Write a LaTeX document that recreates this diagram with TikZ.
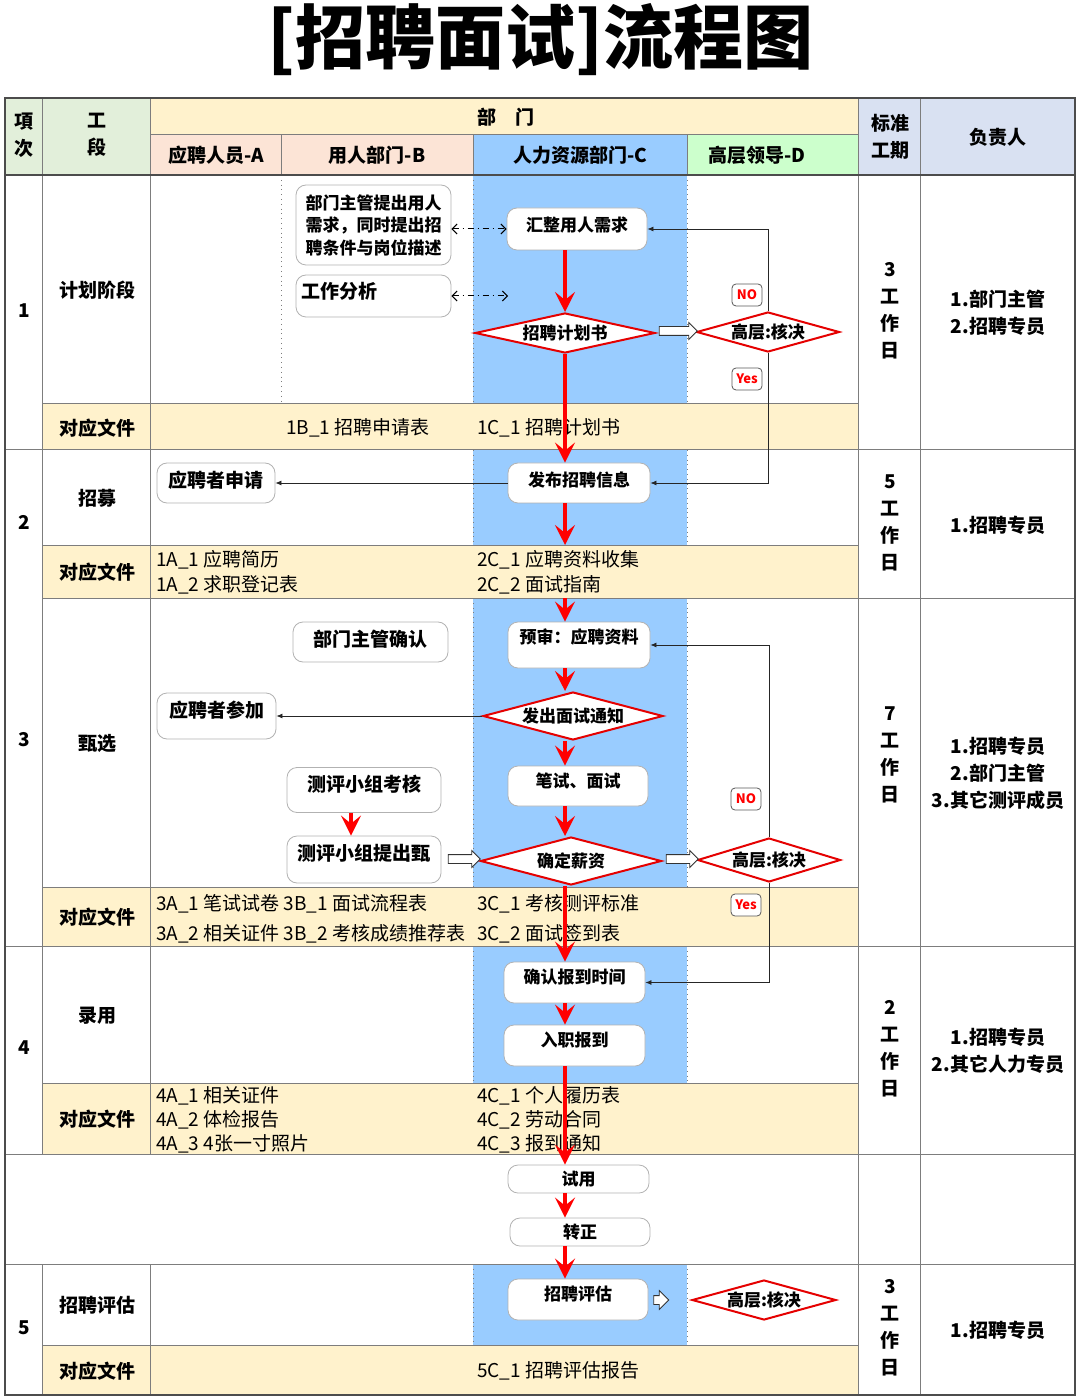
\documentclass[tikz,border=0pt]{standalone}
\usepackage{fontspec}
\setmainfont{Noto Sans CJK SC}
\usepackage{tikz}
\usetikzlibrary{arrows.meta,shapes.geometric,shapes.arrows,calc}
\definecolor{hdrgreen}{RGB}{226,239,218}
\definecolor{hdryellow}{RGB}{255,242,204}
\definecolor{hdrpeach}{RGB}{252,228,214}
\definecolor{laneblue}{RGB}{153,204,255}
\definecolor{lanegreen}{RGB}{204,255,204}
\definecolor{hdrgray}{RGB}{217,225,242}
\definecolor{fileyellow}{RGB}{255,242,204}
\definecolor{gridline}{RGB}{125,125,125}

\begin{document}
\begin{tikzpicture}[x=0.5pt,y=-0.5pt,
  box/.style={draw=gray!60, rounded corners=5pt, fill=white, inner sep=2pt,
    font=\fontsize{8.5}{11.25}\selectfont\bfseries},
  boxab/.style={box, font=\fontsize{9.5}{12}\selectfont\bfseries},
  decide/.style={diamond, draw=red!90!black, line width=1pt, fill=white, inner sep=0pt,
    font=\fontsize{8.5}{10}\selectfont\bfseries},
  tag/.style={draw=gray!70!black, rounded corners=2pt, fill=white, text=red, inner sep=0pt,
    minimum width=15pt, minimum height=11pt, font=\fontsize{6.5}{8}\selectfont\bfseries},
  hollow/.style={single arrow, draw=black!80, line width=0.4pt, fill=white, inner sep=0pt,
    text height=2pt, text depth=2pt, single arrow head extend=2pt},
  redarr/.style={draw=red, line width=1.7pt, -{Stealth[length=10pt, width=10pt, inset=4pt]}},
  thinarr/.style={draw=black!85, line width=0.4pt, -{Latex[length=3pt, width=2.5pt]}},
  dasharr/.style={draw=black, line width=0.5pt, dash dot,
    {Straight Barb[length=2.5pt]}-{Straight Barb[length=2.5pt]}},
  cell/.style={font=\fontsize{9.5}{13.5}\selectfont\bfseries, align=center},
  filetxt/.style={anchor=west, align=left, font=\fontsize{9.5}{12.5}\selectfont},
  grid/.style={draw=gridline, line width=0.5pt}]
  \useasboundingbox (0,0) rectangle (1080,1400);
  % title
  \node[font=\fontsize{35}{40}\selectfont\bfseries] (title) at (540,40) {[招聘面试]流程图};
  % header fills
  \fill[hdrgreen] (5,98) rectangle (150,175);
  \fill[hdryellow] (150,98) rectangle (858,135);
  \fill[hdrpeach] (150,135) rectangle (473,175);
  \fill[laneblue] (473,135) rectangle (687,175);
  \fill[lanegreen] (687,135) rectangle (858,175);
  \fill[hdrgray] (858,98) rectangle (1075,175);
  % lane C and file rows
  \foreach \ya/\yb in {175/404,450/545,598/887,946/1083,1264/1345}{
    \fill[laneblue] (473,\ya) rectangle (687,\yb);
    \draw[gridline, dotted] (473,\ya) -- (473,\yb) (687,\ya) -- (687,\yb);
  }
  \foreach \ya/\yb in {404/450,545/598,887/946,1083/1154,1345/1395}
    \fill[fileyellow] (42,\ya) rectangle (858,\yb);
  % grid
  \draw[grid] (150,135) -- (858,135);
  \foreach \yy in {404,545,887,1083,1345}
    \draw[grid] (42,\yy) -- (858,\yy);
  \foreach \yy in {450,946,1154,1264}
    \draw[grid] (5,\yy) -- (1075,\yy);
  \draw[grid] (42,598) -- (1075,598);
  \foreach \xx in {42,150}
    \draw[grid] (\xx,98) -- (\xx,1154) (\xx,1264) -- (\xx,1395);
  \foreach \xx in {281,473,687}
    \draw[grid] (\xx,135) -- (\xx,175);
  \draw[gridline, dotted] (281,175) -- (281,404);
  \draw[grid] (858,98) -- (858,1395) (920,98) -- (920,1395);
  \draw[draw=black!70, line width=1pt] (5,175) -- (1075,175);
  \draw[draw=black!70, line width=0.8pt] (5,98) rectangle (1075,1395);
  % header texts
  \node[cell] (hitem) at (24,135) {項\\次};
  \node[cell] (hstage) at (97,135) {工\\段};
  \node[cell] (hdept) at (506,117) {部\hspace{1em}门};
  \node[cell] (hlaneA) at (216,155) {应聘人员-A};
  \node[cell] (hlaneB) at (377,155) {用人部门-B};
  \node[cell] (hlaneC) at (580,155) {人力资源部门-C};
  \node[cell] (hlaneD) at (757,155) {高层领导-D};
  \node[cell] (hdays) at (890,137) {标准\\工期};
  \node[cell] (howner) at (998,137) {负责人};
  % item numbers and stage names
  \node[cell] (n1) at (24,311) {1};
  \node[cell] (n2) at (24,522) {2};
  \node[cell] (n3) at (24,740) {3};
  \node[cell] (n4) at (24,1048) {4};
  \node[cell] (n5) at (24,1328) {5};
  \node[cell] (s1) at (97,290) {计划阶段};
  \node[cell] (s2) at (97,498) {招募};
  \node[cell] (s3) at (97,743) {甄选};
  \node[cell] (s4) at (97,1016) {录用};
  \node[cell] (s5) at (97,1305) {招聘评估};
  \foreach \yy/\nm in {428/f1,572/f2,917/f3,1119/f4,1371/f5}
    \node[cell] (\nm) at (97,\yy) {对应文件};
  % days and owners
  \node[cell] (t1) at (890,311) {3\\工\\作\\日};
  \node[cell] (t2) at (890,523) {5\\工\\作\\日};
  \node[cell] (t3) at (890,755) {7\\工\\作\\日};
  \node[cell] (t4) at (890,1049) {2\\工\\作\\日};
  \node[cell] (t5) at (890,1328) {3\\工\\作\\日};
  \node[cell] (o1) at (998,313) {1.部门主管\\2.招聘专员};
  \node[cell] (o2) at (998,525) {1.招聘专员};
  \node[cell] (o3) at (998,773) {1.招聘专员\\2.部门主管\\3.其它测评成员};
  \node[cell] (o4) at (998,1051) {1.招聘专员\\2.其它人力专员};
  \node[cell] (o5) at (998,1330) {1.招聘专员};
  % documents
  \node[filetxt] (d1B) at (279,428) {1B\_1 招聘申请表};
  \node[filetxt] (d1C) at (470,428) {1C\_1 招聘计划书};
  \node[filetxt] (d2A) at (149,572) {1A\_1 应聘简历\\1A\_2 求职登记表};
  \node[filetxt] (d2C) at (470,572) {2C\_1 应聘资料收集\\2C\_2 面试指南};
  \node[filetxt, font=\fontsize{9.5}{15}\selectfont] (d3A) at (149,919) {3A\_1 笔试试卷 3B\_1 面试流程表\\3A\_2 相关证件 3B\_2 考核成绩推荐表};
  \node[filetxt, font=\fontsize{9.5}{15}\selectfont] (d3C) at (470,919) {3C\_1 考核测评标准\\3C\_2 面试签到表};
  \node[filetxt, font=\fontsize{9.5}{12}\selectfont] (d4A) at (149,1120) {4A\_1 相关证件\\4A\_2 体检报告\\4A\_3 4张一寸照片};
  \node[filetxt, font=\fontsize{9.5}{12}\selectfont] (d4C) at (470,1120) {4C\_1 个人履历表\\4C\_2 劳动合同\\4C\_3 报到通知};
  \node[filetxt] (d5C) at (470,1371) {5C\_1 招聘评估报告};
  % stage 1
  \node[box, minimum width=77.5pt, minimum height=40pt, align=left] (need) at (373.5,225) {部门主管提出用人\\需求，同时提出招\\聘条件与岗位描述};
  \node[boxab, minimum width=77.5pt, minimum height=21pt, text width=72pt, align=left, text depth=6pt] (jobana) at (373.5,296) {工作分析};
  \coordinate (jobanaend) at (508,296);
  \node[box, minimum width=70pt, minimum height=21pt, text depth=5pt] (collect) at (577,229) {汇整用人需求};
  \node[decide, shape aspect=4.5, minimum width=90pt, minimum height=20pt] (plan) at (565,333) {招聘计划书};
  \node[decide, shape aspect=3.6, minimum width=71.5pt, minimum height=20pt] (boss1) at (768,332) {高层:核决};
  \node[tag] (no1) at (747,295) {NO};
  \node[tag] (yes1) at (747,379) {Yes};
  \node[hollow, minimum height=19pt] (h1) at (676,331) {};
  % stage 2
  \node[boxab, minimum width=59pt, minimum height=20pt, text depth=4pt] (apply) at (216,483) {应聘者申请};
  \node[box, minimum width=71pt, minimum height=20pt, text depth=4pt] (publish) at (579,483) {发布招聘信息};
  \coordinate (pubend) at (565,545);
  \coordinate (screenstart) at (565,598);
  % stage 3
  \node[boxab, minimum width=77.5pt, minimum height=20pt, text depth=4pt] (mgrok) at (370.5,642) {部门主管确认};
  \node[box, minimum width=71pt, minimum height=23pt, text depth=9pt] (prescreen) at (579,645) {预审：应聘资料};
  \node[boxab, minimum width=59.5pt, minimum height=23pt, text depth=7pt] (attend) at (216.5,716) {应聘者参加};
  \node[decide, shape aspect=3.75, minimum width=90pt, minimum height=24pt] (notice) at (573,716) {发出面试通知};
  \node[boxab, minimum width=77pt, minimum height=22.5pt, text depth=7pt] (panel) at (364,790) {测评小组考核};
  \node[box, minimum width=70pt, minimum height=20pt, text depth=6pt] (exam) at (578,786) {笔试、面试};
  \node[boxab, minimum width=77pt, minimum height=23.5pt, text depth=7pt] (propose) at (364,859.5) {测评小组提出甄};
  \node[decide, shape aspect=3.75, minimum width=90.5pt, minimum height=24pt] (salary) at (571,861) {确定薪资};
  \node[decide, shape aspect=3.3, minimum width=71.5pt, minimum height=22pt] (boss2) at (769,860) {高层:核决};
  \node[tag] (no2) at (746,799) {NO};
  \node[tag] (yes2) at (746,905) {Yes};
  \node[hollow, minimum height=16pt] (h2) at (462,859) {};
  \node[hollow, minimum height=16pt] (h3) at (680,859) {};
  % stage 4
  \node[box, minimum width=70.5pt, minimum height=20.5pt, text depth=6pt] (report) at (574.5,982.5) {确认报到时间};
  \node[box, minimum width=70.5pt, minimum height=20.5pt, text depth=6pt] (onboard) at (574.5,1045.5) {入职报到};
  % probation
  \node[box, minimum width=70.5pt, minimum height=14pt] (trial) at (578.5,1179) {试用};
  \node[box, minimum width=70pt, minimum height=14pt] (regular) at (580,1232) {转正};
  % stage 5
  \node[box, minimum width=70pt, minimum height=20.5pt, text depth=6pt] (review) at (578,1299.5) {招聘评估};
  \node[hollow, minimum height=7.5pt, single arrow head extend=2.5pt] (h4) at (659,1300) {};
  \node[decide, shape aspect=3.6, minimum width=72pt, minimum height=20pt] (boss3) at (764,1300) {高层:核决};
  % connectors
  \draw[dasharr] (need.east |- collect.west) -- (collect.west);
  \draw[dasharr] (jobana.east) -- (jobanaend);
  \draw[thinarr] (boss1.north) |- (collect.east);
  \draw[thinarr] (boss1.south) |- (publish.east);
  \draw[thinarr] (publish.west) -- (apply.east);
  \draw[thinarr] (notice.west) -- (attend.east);
  \draw[thinarr] (boss2.north) |- (prescreen.east);
  \draw[thinarr] (boss2.south) |- (report.east);
  \draw[redarr] (collect.south -| plan) -- (plan.north);
  \draw[redarr] (plan.south) -- (publish.north -| plan);
  \draw[redarr] (publish.south -| plan) -- (pubend);
  \draw[redarr] (screenstart) -- (prescreen.north -| plan);
  \draw[redarr] (prescreen.south -| plan) -- (notice.north -| plan);
  \draw[redarr] (notice.south -| plan) -- (exam.north -| plan);
  \draw[redarr] (exam.south -| plan) -- (salary.north -| plan);
  \draw[redarr] ([xshift=-6.5pt]panel.south) -- ([xshift=-6.5pt]propose.north);
  \draw[redarr] (salary.south -| plan) -- (report.north -| plan);
  \draw[redarr] (report.south -| plan) -- (onboard.north -| plan);
  \draw[redarr] (onboard.south -| plan) -- (trial.north -| plan);
  \draw[redarr] (trial.south -| plan) -- (regular.north -| plan);
  \draw[redarr] (regular.south -| plan) -- (review.north -| plan);
\end{tikzpicture}
\end{document}
